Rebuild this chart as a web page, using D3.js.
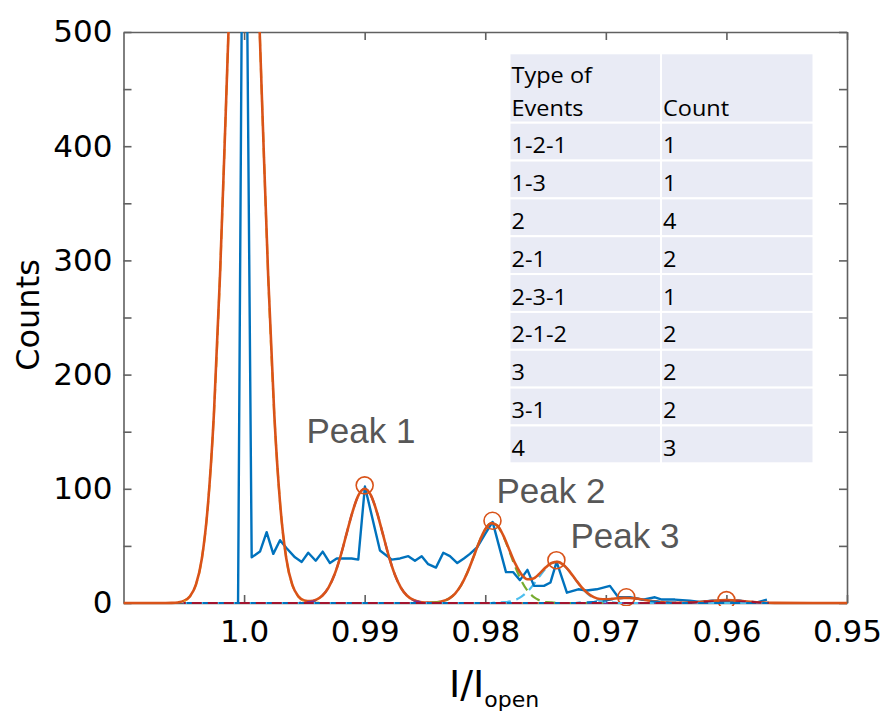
<!DOCTYPE html>
<html>
<head>
<meta charset="utf-8">
<script src="https://cdn.jsdelivr.net/npm/d3@7"></script>
<style>
  body { margin: 0; background: #fff; }
  svg { display: block; }
</style>
</head>
<body>
<div id="chart"></div>
<script>
// ---- values ----
// histogram (blue), [I/Iopen, counts]
const histPoints = [[1.0005,0],[1.0000,850],[0.99937,40],[0.99868,45],[0.99813,62],[0.99758,43],
  [0.99702,55],[0.99647,48],[0.99578,40],[0.99522,36],[0.99468,44],[0.99406,37],[0.99348,45],
  [0.99288,35],[0.99232,39],[0.99177,39],[0.99108,39],[0.99053,38],[0.98998,102],[0.98873,46],
  [0.98776,38],[0.98707,39],[0.98638,41],[0.98583,37],[0.98527,41],[0.98473,34],[0.98409,31],
  [0.98348,44],[0.98293,41],[0.98232,35],[0.98177,39],[0.98127,43],[0.98066,49],[0.98003,60],
  [0.97939,71],[0.97828,27],[0.97768,27],[0.97712,20],[0.9765,29],[0.97596,15],[0.97513,15],
  [0.97459,18],[0.97408,36],[0.97323,9],[0.97229,12],[0.97159,11],[0.97076,12],[0.96966,15],
  [0.96897,5],[0.968,5],[0.96692,3],[0.96593,5],[0.96535,3],[0.96427,3],[0.96303,2],[0.9622,1],
  [0.9612,2],[0.96004,2],[0.95888,2],[0.95805,0.5],[0.95747,0.5],[0.95664,3]];

// total fit (orange)
const fitTotal = [[1.01,0],[1.007,0],[1.0065,0],[1.006,0.1],[1.0055,0.5],[1.005,1.8],[1.0045,5.7],
  [1.004,15.8],[1.0035,39],[1.003,85.6],[1.0025,166],[1.002,286],[1.0015,436],[1.001,589],
  [1.0005,706],[1.0,750],[0.9995,706],[0.999,589],[0.9985,436],[0.998,286],[0.9975,166],
  [0.997,85.6],[0.9965,39],[0.996,15.8],[0.9955,5.8],[0.995,2.2],[0.9945,1.6],[0.994,3.0],
  [0.9935,6.6],[0.993,13.5],[0.9925,24.9],[0.992,41.1],[0.9915,60.7],[0.991,80.1],[0.9905,94.6],
  [0.99,100],[0.9895,94.6],[0.989,80.1],[0.9885,60.7],[0.988,41.1],[0.9875,24.9],[0.987,13.5],
  [0.9865,6.6],[0.986,2.9],[0.9855,1.1],[0.985,0.4],[0.9845,0.3],[0.984,0.6],[0.9835,1.7],
  [0.983,3.9],[0.9825,8.3],[0.982,15.6],[0.9815,26.3],[0.981,39.6],[0.9805,53.5],[0.98,64.6],
  [0.9795,69.9],[0.979,67.8],[0.9785,59.0],[0.978,46.5],[0.9775,34.2],[0.977,25.1],[0.9765,20.8],
  [0.976,21.5],[0.9755,25.7],[0.975,31.0],[0.9745,35.0],[0.974,36.0],[0.9735,33.2],[0.973,27.5],
  [0.9725,20.4],[0.972,13.7],[0.9715,8.5],[0.971,5.1],[0.9705,3.5],[0.97,3.3],[0.9695,3.6],
  [0.969,4.1],[0.9685,4.5],[0.968,4.4],[0.9675,3.9],[0.967,3.1],[0.9665,2.2],[0.966,1.4],
  [0.9655,0.8],[0.965,0.4],[0.9645,0.2],[0.964,0.2],[0.9635,0.17],[0.963,0.34],[0.9625,0.62],
  [0.962,1.03],[0.9615,1.52],[0.961,2.0],[0.9605,2.37],[0.96,2.5],[0.9595,2.37],[0.959,2.0],
  [0.9585,1.52],[0.958,1.03],[0.9575,0.62],[0.957,0.34],[0.9565,0.17],[0.956,0.1],[0.95,0]];

// single fit components (dashed), spanning the fitted range only
const compOpen = [[1.005,1.8],[1.0045,5.7],[1.004,15.8],[1.0035,39],[1.003,85.6],[1.0025,166],
  [1.002,286],[1.0015,436],[1.001,589],[1.0005,706],[1.0,750],[0.9995,706],[0.999,589],[0.9985,436],
  [0.998,286],[0.9975,166],[0.997,85.6],[0.9965,39],[0.996,15.8],[0.9955,5.7],[0.995,1.8],
  [0.9945,0.5],[0.994,0.1],[0.9935,0],[0.9565,0]];
const compPeak1 = [[1.005,0],[0.9955,0],[0.995,0.4],[0.9945,1.1],[0.994,2.9],[0.9935,6.6],[0.993,13.5],
  [0.9925,24.9],[0.992,41.1],[0.9915,60.7],[0.991,80.1],[0.9905,94.6],[0.99,100],[0.9895,94.6],
  [0.989,80.1],[0.9885,60.7],[0.988,41.1],[0.9875,24.9],[0.987,13.5],[0.9865,6.6],[0.986,2.9],
  [0.9855,1.1],[0.985,0.4],[0.9845,0],[0.9565,0]];
const compPeak2 = [[1.005,0],[0.985,0],[0.9845,0.2],[0.984,0.6],[0.9835,1.7],[0.983,3.9],[0.9825,8.3],
  [0.982,15.6],[0.9815,26.3],[0.981,39.6],[0.9805,53.5],[0.98,64.6],[0.9795,69.9],[0.979,67.6],
  [0.9785,58.5],[0.978,45.3],[0.9775,31.4],[0.977,19.5],[0.9765,10.8],[0.976,5.4],[0.9755,2.4],
  [0.975,0.9],[0.9745,0.3],[0.974,0],[0.9565,0]];
const compPeak3 = [[1.005,0],[0.9795,0],[0.979,0.2],[0.9785,0.5],[0.978,1.2],[0.9775,2.8],[0.977,5.6],
  [0.9765,10.0],[0.976,16.1],[0.9755,23.3],[0.975,30.1],[0.9745,34.7],[0.974,35.9],[0.9735,33.2],
  [0.973,27.5],[0.9725,20.4],[0.972,13.5],[0.9715,8.0],[0.971,4.2],[0.9705,2.0],[0.97,0.9],
  [0.9695,0.3],[0.969,0],[0.9565,0]];
const compPeak4 = [[1.005,0],[0.9725,0],[0.972,0.2],[0.9715,0.46],[0.971,0.89],[0.9705,1.53],[0.97,2.37],
  [0.9695,3.27],[0.969,4.04],[0.9685,4.46],[0.968,4.41],[0.9675,3.9],[0.967,3.09],[0.9665,2.19],
  [0.966,1.39],[0.9655,0.79],[0.965,0.4],[0.9645,0.18],[0.964,0],[0.9565,0]];
const compPeak5 = [[1.005,0],[0.964,0],[0.9635,0.17],[0.963,0.34],[0.9625,0.62],[0.962,1.03],
  [0.9615,1.52],[0.961,2.0],[0.9605,2.37],[0.96,2.5],[0.9595,2.37],[0.959,2.0],[0.9585,1.52],
  [0.958,1.03],[0.9575,0.62],[0.957,0.34],[0.9565,0.17]];

// fitted peak maxima (circles)
const peakX = [0.99, 0.9794, 0.9741, 0.9683, 0.9600];
const peakY = [103, 72, 37.5, 5, 2.5];

const peakLabels = ["Peak 1", "Peak 2", "Peak 3"];
const xTicks = [1.0, 0.99, 0.98, 0.97, 0.96, 0.95];
const xTickLabels = ["1.0", "0.99", "0.98", "0.97", "0.96", "0.95"];
const yTicks = [0, 50, 100, 150, 200, 250, 300, 350, 400, 450, 500];

const eventTypes = ["1-2-1", "1-3", "2", "2-1", "2-3-1", "2-1-2", "3", "3-1", "4"];
const eventCounts = [1, 1, 4, 2, 1, 2, 2, 2, 3];

// ---- drawing ----
const width = 885, height = 711;
const margin = {left: 123.5, right: 38, top: 32, bottom: 108};
const axisColor = "#606060";

const svg = d3.select("#chart").append("svg")
  .attr("width", width)
  .attr("height", height)
  .style("background", "#fff");

const x = d3.scaleLinear()
  .domain([1.01, 0.95])
  .range([margin.left, width - margin.right]);
const y = d3.scaleLinear()
  .domain([0, 500])
  .range([height - margin.bottom, margin.top]);

svg.append("clipPath").attr("id", "plotclip")
  .append("rect")
    .attr("x", margin.left)
    .attr("y", margin.top)
    .attr("width", x.range()[1] - margin.left)
    .attr("height", y(0) - margin.top + 3);

// thin band along the zero line, where the dashed components show on top
svg.append("clipPath").attr("id", "baseclip")
  .append("rect")
    .attr("x", margin.left)
    .attr("y", y(0) - 2.5)
    .attr("width", x.range()[1] - margin.left)
    .attr("height", 5);

// axes (box with inward ticks)
function styleAxis(g) {
  g.select(".domain").attr("stroke", axisColor).attr("stroke-width", 1.6);
  g.selectAll(".tick line").attr("stroke", axisColor).attr("stroke-width", 1.6);
  g.selectAll(".tick text")
    .attr("fill", "#000")
    .attr("font-family", "DejaVu Sans, sans-serif")
    .attr("font-size", "31px");
}

svg.append("g")
  .attr("transform", `translate(0,${y(0)})`)
  .call(d3.axisBottom(x).tickValues(xTicks).tickSizeInner(-8).tickSizeOuter(0).tickPadding(17)
    .tickFormat((d, i) => xTickLabels[i]))
  .call(styleAxis);

svg.append("g")
  .attr("transform", `translate(0,${margin.top})`)
  .call(d3.axisTop(x).tickValues(xTicks).tickSizeInner(-8).tickSizeOuter(0).tickFormat(""))
  .call(styleAxis);

svg.append("g")
  .attr("transform", `translate(${margin.left},0)`)
  .call(d3.axisLeft(y).tickValues(yTicks).tickSizeInner(-8).tickSizeOuter(0).tickPadding(11)
    .tickFormat(d => d % 100 === 0 ? d : ""))
  .call(styleAxis);

svg.append("g")
  .attr("transform", `translate(${x.range()[1]},0)`)
  .call(d3.axisRight(y).tickValues(yTicks).tickSizeInner(-8).tickSizeOuter(0).tickFormat(""))
  .call(styleAxis);

// lines
const line = d3.line()
  .x(d => x(d[0]))
  .y(d => y(d[1]));
const smooth = d3.line()
  .x(d => x(d[0]))
  .y(d => y(d[1]))
  .curve(d3.curveMonotoneX);

const plot = svg.append("g").attr("clip-path", "url(#plotclip)");

const comps = [
  {data: compOpen,  color: "#EDB120", off: 0},
  {data: compPeak1, color: "#7E2F8E", off: 5},
  {data: compPeak2, color: "#77AC30", off: 10},
  {data: compPeak3, color: "#4DBEEE", off: 3},
  {data: compPeak4, color: "#0072BD", off: 13},
  {data: compPeak5, color: "#A2142F", off: 8}
];

function drawComps(g) {
  g.selectAll("path.comp")
    .data(comps)
    .enter().append("path")
      .attr("class", "comp")
      .attr("d", d => smooth(d.data))
      .attr("fill", "none")
      .attr("stroke", d => d.color)
      .attr("stroke-width", 2.2)
      .attr("stroke-dasharray", "10,6")
      .attr("stroke-dashoffset", d => d.off);
}

drawComps(plot.append("g"));

plot.append("path")
  .attr("d", line(histPoints))
  .attr("fill", "none")
  .attr("stroke", "#0072BD")
  .attr("stroke-width", 2.4)
  .attr("stroke-linejoin", "round");

plot.append("path")
  .attr("d", smooth(fitTotal))
  .attr("fill", "none")
  .attr("stroke", "#D95319")
  .attr("stroke-width", 2.6);

// zero-line part of the components drawn over the fit
drawComps(svg.append("g").attr("clip-path", "url(#baseclip)"));

plot.selectAll("circle.peak")
  .data(peakX)
  .enter().append("circle")
    .attr("class", "peak")
    .attr("cx", d => x(d))
    .attr("cy", (d, i) => y(peakY[i]))
    .attr("r", 8.5)
    .attr("fill", "none")
    .attr("stroke", "#D95319")
    .attr("stroke-width", 1.6);

// peak labels
const labelPos = [[361, 443], [551, 503], [625, 548]];
svg.selectAll("text.peaklab")
  .data(peakLabels)
  .enter().append("text")
    .attr("class", "peaklab")
    .attr("x", (d, i) => labelPos[i][0])
    .attr("y", (d, i) => labelPos[i][1])
    .attr("text-anchor", "middle")
    .attr("font-family", "Liberation Sans, Arial, sans-serif")
    .attr("font-size", "35px")
    .attr("fill", "#575757")
    .text(d => d);

// axis titles
svg.append("text")
  .attr("transform", "translate(39,315) rotate(-90)")
  .attr("text-anchor", "middle")
  .attr("font-family", "DejaVu Sans, sans-serif")
  .attr("font-size", "32px")
  .attr("fill", "#000")
  .text("Counts");

const xl = svg.append("text")
  .attr("x", 449)
  .attr("y", 697)
  .attr("font-family", "DejaVu Sans, sans-serif")
  .attr("fill", "#000");
xl.append("tspan").attr("font-size", "38px").text("I/I");
xl.append("tspan").attr("font-size", "22px").attr("dy", 10).text("open");

// table
const tbl = {left: 509.5, mid: 661, right: 813.5, top: 53.3, headBottom: 122.7, bottom: 463.3};
const rowY = d3.scaleBand()
  .domain(eventTypes)
  .range([tbl.headBottom, tbl.bottom]);

const table = svg.append("g");
const cells = [[tbl.left, tbl.top, tbl.mid - tbl.left, tbl.headBottom - tbl.top],
               [tbl.mid, tbl.top, tbl.right - tbl.mid, tbl.headBottom - tbl.top]];
eventTypes.forEach(t => {
  cells.push([tbl.left, rowY(t), tbl.mid - tbl.left, rowY.bandwidth()]);
  cells.push([tbl.mid, rowY(t), tbl.right - tbl.mid, rowY.bandwidth()]);
});
table.selectAll("rect")
  .data(cells)
  .enter().append("rect")
    .attr("x", d => d[0]).attr("y", d => d[1])
    .attr("width", d => d[2]).attr("height", d => d[3])
    .attr("fill", "#e9ebf5")
    .attr("stroke", "#fff")
    .attr("stroke-width", 2);

function cellText(tx, ty, s) {
  table.append("text")
    .attr("transform", `translate(${tx},${ty}) scale(1.12,1)`)
    .attr("font-family", "Open Sans, sans-serif")
    .attr("font-size", "21px")
    .attr("fill", "#000")
    .text(s);
}
cellText(tbl.left + 2, 83, "Type of");
cellText(tbl.left + 2, 116, "Events");
cellText(tbl.mid + 2, 116, "Count");
eventTypes.forEach((t, i) => {
  cellText(tbl.left + 2, rowY(t) + 30.5, t);
  cellText(tbl.mid + 2, rowY(t) + 30.5, String(eventCounts[i]));
});
</script>
</body>
</html>
